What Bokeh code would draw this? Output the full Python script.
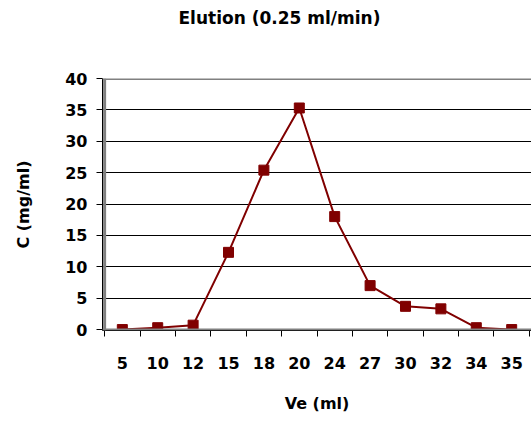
from bokeh.plotting import figure
from bokeh.models import (FactorRange, Range1d, LinearAxis, FixedTicker,
                          SingleIntervalTicker, Span, Title, ColumnDataSource)
from bokeh.embed import file_html
from bokeh.resources import INLINE

# ---- data ----
ve_labels = ["5", "10", "12", "15", "18", "20", "24", "27", "30", "32", "34", "35"]
concentration = [0.0, 0.3, 0.7, 12.3, 25.4, 35.3, 18.0, 7.0, 3.7, 3.3, 0.3, 0.0]
title_text = "Elution (0.25 ml/min)"
x_title = "Ve (ml)"
y_title = "C (mg/ml)"

FONT = "DejaVu Sans"
RED = "#800000"
GRAY = "#808080"

src = ColumnDataSource(data=dict(ve=ve_labels, c=concentration))

p = figure(width=531, height=421, title=None,
           x_range=FactorRange(factors=ve_labels, range_padding=0.06,
                               range_padding_units="absolute"),
           y_range=Range1d(-0.15, 40),
           x_axis_type=None,
           output_backend="svg", toolbar_location=None,
           min_border_left=102, min_border_right=0,
           min_border_top=0, min_border_bottom=91)
p.outline_line_color = None
p.background_fill_color = "white"
p.border_fill_color = "white"

# spacer between title and plot area, then the title itself
p.add_layout(Title(text=" ", text_font=FONT, text_font_size="10px", standoff=29), "above")
p.add_layout(Title(text=title_text, align="left", offset=76, vertical_align="top",
                   text_font=FONT, text_font_size="17px", text_font_style="bold",
                   text_color="black", standoff=14), "above")

# x axis: labels at category centres, tick marks at category boundaries
n = len(ve_labels)
centres = [i + 0.5 for i in range(n)]
bounds = [float(i) for i in range(n + 1)]
xaxis = LinearAxis(ticker=FixedTicker(ticks=centres, minor_ticks=bounds))
xaxis.major_label_overrides = {c: lab for c, lab in zip(centres, ve_labels)}
xaxis.major_tick_line_color = None
xaxis.major_tick_in = 0
xaxis.major_tick_out = 0
xaxis.minor_tick_in = 0
xaxis.minor_tick_out = 6
xaxis.minor_tick_line_color = "black"
xaxis.axis_line_color = "black"
xaxis.major_label_standoff = 20
xaxis.major_label_text_font = FONT
xaxis.major_label_text_font_size = "16px"
xaxis.major_label_text_font_style = "bold"
xaxis.major_label_text_color = "black"
xaxis.axis_label = x_title
xaxis.axis_label_text_font = FONT
xaxis.axis_label_text_font_size = "16px"
xaxis.axis_label_text_font_style = "bold"
xaxis.axis_label_text_color = "black"
xaxis.axis_label_standoff = 22
p.add_layout(xaxis, "below")

# y axis
ya = p.yaxis[0]
ya.ticker = SingleIntervalTicker(interval=5)
ya.minor_tick_line_color = None
ya.major_tick_in = 0
ya.major_tick_out = 6
ya.major_tick_line_color = "black"
ya.axis_line_color = "black"
ya.major_label_standoff = 9
ya.major_label_text_font = FONT
ya.major_label_text_font_size = "16px"
ya.major_label_text_font_style = "bold"
ya.major_label_text_color = "black"
ya.axis_label = y_title
ya.axis_label_text_font = FONT
ya.axis_label_text_font_size = "16px"
ya.axis_label_text_font_style = "bold"
ya.axis_label_text_color = "black"
ya.axis_label_standoff = 29

p.ygrid.grid_line_color = "black"
p.ygrid.grid_line_width = 1
p.ygrid.ticker = SingleIntervalTicker(interval=5)

# grey plot-area frame (top, left, bottom)
p.add_layout(Span(location=40, dimension="width", line_color=GRAY, line_width=3))
p.add_layout(Span(location=0, dimension="height", line_color=GRAY, line_width=3))
p.add_layout(Span(location=0, dimension="width", line_color=GRAY, line_width=2))

# data
p.line("ve", "c", source=src, line_color=RED, line_width=2)
p.scatter("ve", "c", source=src, marker="square", size=10,
          fill_color=RED, line_color=RED)

open("out.html", "w").write(file_html(p, INLINE))
